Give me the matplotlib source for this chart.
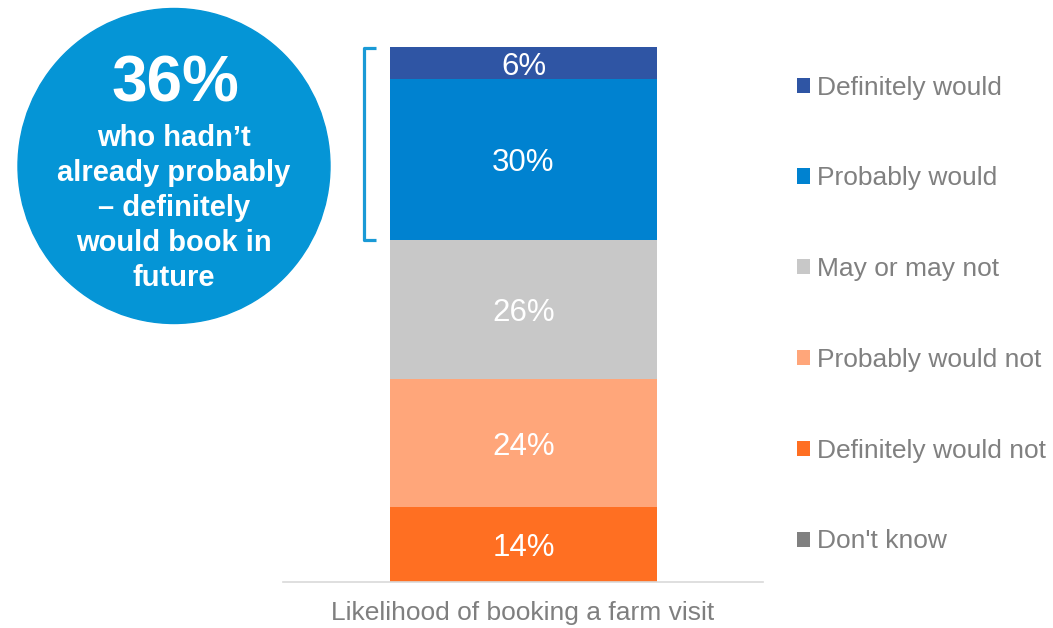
import matplotlib.pyplot as plt
from matplotlib.patches import Ellipse
from matplotlib.lines import Line2D

plt.rcParams['font.family'] = ['Liberation Sans', 'DejaVu Sans']

# categories stacked bottom -> top
categories = ['Definitely would not', 'Probably would not', 'May or may not',
              'Probably would', 'Definitely would', "Don't know"]
values = [14, 24, 26, 30, 6, 0]
colors = ['#ff6f22', '#ffa67a', '#c8c8c8', '#0082d0', '#2f55a4', '#808080']
bar_label = 'Likelihood of booking a farm visit'

W, H = 1053, 628
fig = plt.figure(figsize=(W / 100, H / 100), dpi=100)

def fx(px):
    return px / W

def fy(py):
    return 1 - py / H

# axes spans the bar area: x 283..763, y 47..582 pixels
ax = fig.add_axes([fx(283), fy(582), fx(763) - fx(283), fy(47) - fy(582)])
ax.set_xlim(-0.5, 0.5)
ax.set_ylim(0, 100)

bottom = 0
handles = {}
for cat, val, col in zip(categories, values, colors):
    b = ax.bar(0.001, val, width=0.556, bottom=bottom, color=col, label=cat)
    handles[cat] = b
    if val > 0:
        ax.text(0.001, bottom + val / 2 - 0.7, f'{val}%', ha='center', va='center',
                color='white', fontsize=22.5)
    bottom += val

for s in ['top', 'right', 'left']:
    ax.spines[s].set_visible(False)
ax.spines['bottom'].set_color('#d9d9d9')
ax.spines['bottom'].set_linewidth(1.2)
ax.set_yticks([])
ax.set_xticks([])
fig.text(fx(523), fy(613), bar_label, ha='center', va='center',
         fontsize=19, color='#7f7f7f')

# legend, top to bottom
order = ['Definitely would', 'Probably would', 'May or may not',
         'Probably would not', 'Definitely would not', "Don't know"]
leg = fig.legend([handles[c] for c in order], order, loc='center left',
                 bbox_to_anchor=(fx(797), fy(314.5)), frameon=False,
                 fontsize=19, handlelength=0.5, handleheight=0.5,
                 handletextpad=0.25, labelspacing=2.53, borderpad=0,
                 borderaxespad=0)
for t in leg.get_texts():
    t.set_color('#808080')

# big circle callout
circ = Ellipse((fx(174), fy(166)), fx(312), 315 / H, transform=fig.transFigure,
               color='#0595d6', zorder=0)
fig.patches.append(circ)
fig.text(fx(175), fy(84), '36%', ha='center', va='center', color='white',
         fontsize=46, fontweight='bold')
lines = ['who hadn\u2019t', 'already probably', '\u2013 definitely',
         'would book in', 'future']
for i, ln in enumerate(lines):
    fig.text(fx(174), fy(138 + 35 * i), ln, ha='center', va='center',
             color='white', fontsize=21, fontweight='bold')

# bracket
br = Line2D([fx(376), fx(364), fx(364), fx(376)], [fy(48), fy(48), fy(240), fy(240)],
            transform=fig.transFigure, color='#1a9ad6', linewidth=2.3,
            solid_joinstyle='round', solid_capstyle='butt')
fig.lines.append(br)

fig.savefig('out.png', dpi=100)
